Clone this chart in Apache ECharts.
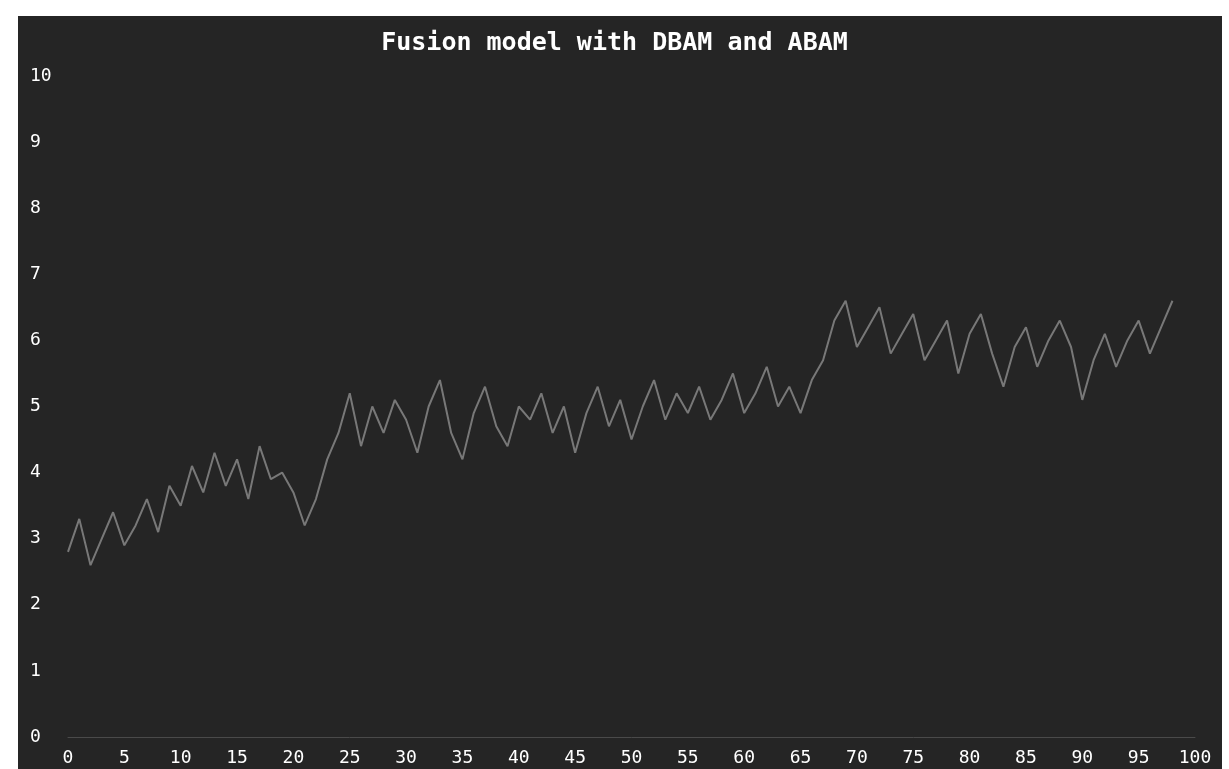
<!DOCTYPE html>
<html>
<head>
<meta charset="utf-8">
<script src="https://cdn.jsdelivr.net/npm/echarts@6/dist/echarts.min.js"></script>
<style>
  html, body { margin: 0; padding: 0; background: #fff; }
  #chart { width: 1229px; height: 769px; }
</style>
</head>
<body>
<div id="chart"></div>
<script>
// fused output, one value per step (0..98)
var fusionValues = [
  2.8, 3.3, 2.6, 3.0, 3.4, 2.9, 3.2, 3.6, 3.1, 3.8,
  3.5, 4.1, 3.7, 4.3, 3.8, 4.2, 3.6, 4.4, 3.9, 4.0, 3.7,
  3.2, 3.6, 4.2,
  4.6, 5.2, 4.4, 5.0, 4.6, 5.1, 4.8,
  4.3, 5.0, 5.4, 4.6, 4.2, 4.9, 5.3, 4.7, 4.4, 5.0,
  4.8, 5.2, 4.6, 5.0, 4.3, 4.9, 5.3, 4.7, 5.1, 4.5, 5.0, 5.4, 4.8, 5.2, 4.9,
  5.3, 4.8, 5.1, 5.5, 4.9, 5.2, 5.6, 5.0, 5.3, 4.9, 5.4, 5.7,
  6.3, 6.6, 5.9, 6.2, 6.5, 5.8, 6.1, 6.4, 5.7, 6.0,
  6.3, 5.5, 6.1, 6.4, 5.8, 5.3, 5.9, 6.2, 5.6, 6.0,
  6.3, 5.9, 5.1, 5.7, 6.1, 5.6, 6.0, 6.3, 5.8, 6.2,
  6.6
];
var titleText = 'Fusion model with DBAM and ABAM';

var seriesData = fusionValues.map(function (v, i) {
  return [i, v];
});

var myChart = echarts.init(document.getElementById('chart'));
var mono = '"DejaVu Sans Mono", monospace';

myChart.setOption({
  backgroundColor: '#ffffff',
  animation: false,
  graphic: [{
    type: 'rect',
    z: -10,
    shape: { x: 18, y: 16, width: 1204, height: 753 },
    style: { fill: '#252525' }
  }],
  title: {
    text: titleText,
    left: 'center',
    top: 26,
    textStyle: {
      color: '#ffffff',
      fontFamily: mono,
      fontWeight: 'bold',
      fontSize: 25
    }
  },
  grid: {
    left: 68,
    right: 34,
    top: 76,
    bottom: 32
  },
  xAxis: {
    type: 'value',
    min: 0,
    max: 100,
    interval: 5,
    axisLine: { show: true, lineStyle: { color: '#4a4a4a', width: 1 } },
    axisTick: { show: false },
    splitLine: { show: false },
    axisLabel: {
      color: '#ffffff',
      fontFamily: mono,
      fontSize: 18,
      margin: 12
    }
  },
  yAxis: {
    type: 'value',
    min: 0,
    max: 10,
    interval: 1,
    axisLine: { show: false },
    axisTick: { show: false },
    splitLine: { show: false },
    axisLabel: {
      color: '#ffffff',
      fontFamily: mono,
      fontSize: 18,
      align: 'left',
      margin: 38
    }
  },
  series: [{
    type: 'line',
    data: seriesData,
    symbol: 'none',
    lineStyle: { color: '#787878', width: 2 }
  }]
});
</script>
</body>
</html>
